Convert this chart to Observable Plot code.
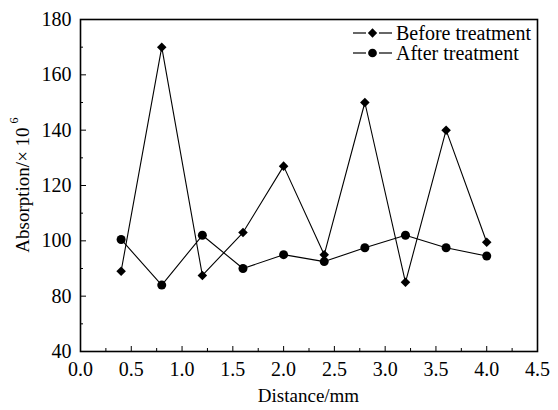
<!DOCTYPE html>
<html>
<head>
<meta charset="utf-8">
<script src="https://cdn.jsdelivr.net/npm/d3@7"></script>
<script src="https://cdn.jsdelivr.net/npm/@observablehq/plot@0.6"></script>
<style>
  html, body { margin: 0; padding: 0; background: #fff; }
</style>
</head>
<body>
<div id="chart"></div>
<script>
const distance = [0.4, 0.8, 1.2, 1.6, 2.0, 2.4, 2.8, 3.2, 3.6, 4.0];
const before = [89, 170, 87.5, 103, 127, 95, 150, 85, 140, 99.5];
const after = [100.5, 84, 102, 90, 95, 92.5, 97.5, 102, 97.5, 94.5];

const xTickValues = [0, 0.5, 1.0, 1.5, 2.0, 2.5, 3.0, 3.5, 4.0, 4.5];
const xTickLabels = ["0.0", "0.5", "1.0", "1.5", "2.0", "2.5", "3.0", "3.5", "4.0", "4.5"];
const xMinorTicks = [0.25, 0.75, 1.25, 1.75, 2.25, 2.75, 3.25, 3.75, 4.25];
const yTickValues = [60, 80, 100, 120, 140, 160, 180];
const yTickLabels = ["40", "80", "100", "120", "140", "160", "180"];
const yMinorTicks = [70, 90, 110, 130, 150, 170];

const seriesNames = ["Before treatment", "After treatment"];
const xTitle = "Distance/mm";
const yTitle = "Absorption/\u00d7 10";
const yTitleSup = "6";

const beforeRows = distance.map((d, i) => ({x: d, y: before[i]}));
const afterRows = distance.map((d, i) => ({x: d, y: after[i]}));

const W = 558, H = 410;
const mt = 19, mr = 21, mb = 59, ml = 80;
const pw = W - ml - mr, ph = H - mt - mb;
const font = "'Liberation Serif', 'Times New Roman', serif";

const chart = Plot.plot({
  width: W, height: H,
  marginTop: mt, marginRight: mr, marginBottom: mb, marginLeft: ml,
  style: {fontFamily: font, fontSize: "20px", background: "white", color: "black", overflow: "visible"},
  x: {domain: [0, 4.5]},
  y: {domain: [60, 180]},
  marks: [
    Plot.gridX(xMinorTicks, {stroke: "black", strokeOpacity: 1, strokeWidth: 1, insetTop: ph - 3}),
    Plot.gridX(xTickValues, {stroke: "black", strokeOpacity: 1, strokeWidth: 1, insetTop: ph - 5}),
    Plot.gridY(yMinorTicks, {stroke: "black", strokeOpacity: 1, strokeWidth: 1, insetRight: pw - 3}),
    Plot.gridY(yTickValues, {stroke: "black", strokeOpacity: 1, strokeWidth: 1, insetRight: pw - 6}),
    Plot.axisX(xTickValues, {tickSize: 0, tickPadding: 10, label: null,
      tickFormat: d => xTickLabels[xTickValues.indexOf(d)]}),
    Plot.axisY(yTickValues, {tickSize: 0, tickPadding: 9, label: null,
      tickFormat: d => yTickLabels[yTickValues.indexOf(d)]}),
    Plot.frame({stroke: "black", strokeWidth: 1.6}),
    Plot.line(beforeRows, {x: "x", y: "y", stroke: "black", strokeWidth: 1.1}),
    Plot.line(afterRows, {x: "x", y: "y", stroke: "black", strokeWidth: 1.1}),
    Plot.dot(beforeRows, {x: "x", y: "y", symbol: "diamond2", r: 4.3, fill: "black", stroke: "none"}),
    Plot.dot(afterRows, {x: "x", y: "y", symbol: "circle", r: 4.5, fill: "black", stroke: "none"})
  ]
});

document.getElementById("chart").appendChild(chart);

const svg = d3.select(chart);

// axis titles
svg.append("text")
  .attr("x", ml + pw / 2).attr("y", 402)
  .style("text-anchor", "middle")
  .style("font-family", font).style("font-size", "19px").style("fill", "black")
  .text(xTitle);

const yt = svg.append("text")
  .attr("transform", `translate(22, ${mt + ph / 2}) rotate(-90)`)
  .style("text-anchor", "middle")
  .style("dominant-baseline", "central")
  .style("font-family", font).style("font-size", "19px").style("fill", "black");
yt.append("tspan").text(yTitle);
yt.append("tspan").attr("dx", 4).attr("dy", -8).style("font-size", "12px").text(yTitleSup);

// legend
const symbols = [d3.symbolDiamond2, d3.symbolCircle];
const sizes = [55, 60];
seriesNames.forEach((name, i) => {
  const cy = 33 + i * 20;
  const g = svg.append("g");
  g.append("line").attr("x1", 353).attr("x2", 366).attr("y1", cy).attr("y2", cy).attr("stroke", "black").attr("stroke-width", 1.2);
  g.append("line").attr("x1", 379).attr("x2", 392).attr("y1", cy).attr("y2", cy).attr("stroke", "black").attr("stroke-width", 1.2);
  g.append("path").attr("d", d3.symbol(symbols[i], sizes[i])()).attr("transform", `translate(372.5, ${cy})`).attr("fill", "black");
  g.append("text").attr("x", 396).attr("y", cy)
    .style("text-anchor", "start").style("dominant-baseline", "central")
    .style("font-family", font).style("font-size", "20px").style("fill", "black").text(name);
});
</script>
</body>
</html>
